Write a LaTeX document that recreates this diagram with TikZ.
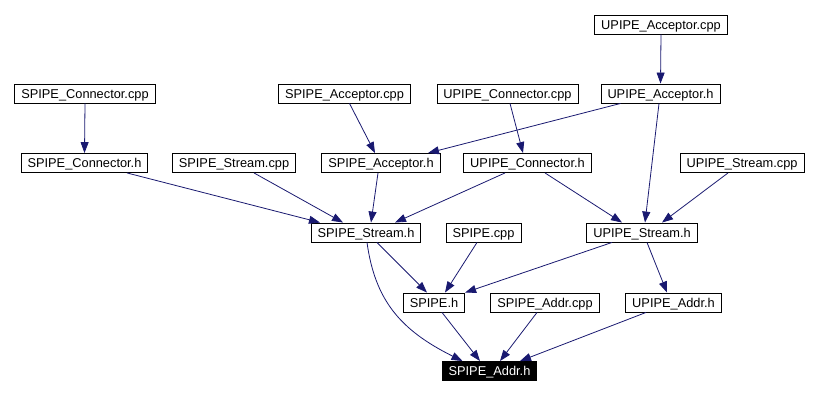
\documentclass[tikz,border=0pt]{standalone}
\usepackage{xcolor}
\usepackage{fontspec}
\setmainfont{Liberation Sans}
\usepackage{tikz}
\usetikzlibrary{arrows.meta}

\definecolor{edgeblue}{RGB}{25,25,112}

\begin{document}
\begin{tikzpicture}[x=1pt, y=-1pt,
    file/.style={draw, line width=0.9pt, inner xsep=6.5pt, inner ysep=0pt,
        minimum height=19pt, text height=9.3pt, text depth=0pt,
        font=\fontsize{12.8}{14}\selectfont},
    root/.style={file, fill=black, text=white},
    dep/.style={draw=edgeblue, line width=0.8pt,
        -{Triangle[length=11pt, width=8pt]}}]
    \useasboundingbox (0, 0) rectangle (818, 395);

    \node[file] at (661, 24.5) (upacccpp) {UPIPE\_Acceptor.cpp};

    \node[file] at (85, 93.5) (spconcpp) {SPIPE\_Connector.cpp};
    \node[file] at (344.5, 93.5) (spacccpp) {SPIPE\_Acceptor.cpp};
    \node[file] at (507.5, 93.5) (upconcpp) {UPIPE\_Connector.cpp};
    \node[file] at (660.5, 93.5) (upacch) {UPIPE\_Acceptor.h};

    \node[file] at (84.5, 163) (spconh) {SPIPE\_Connector.h};
    \node[file] at (234, 163) (spstrcpp) {SPIPE\_Stream.cpp};
    \node[file] at (381, 163) (spacch) {SPIPE\_Acceptor.h};
    \node[file] at (527.5, 163) (upconh) {UPIPE\_Connector.h};
    \node[file] at (742, 163) (upstrcpp) {UPIPE\_Stream.cpp};

    \node[file] at (366, 232.5) (spstrh) {SPIPE\_Stream.h};
    \node[file] at (483.5, 232.5) (spipecpp) {SPIPE.cpp};
    \node[file] at (642, 232.5) (upstrh) {UPIPE\_Stream.h};

    \node[file] at (434, 302.5) (spipeh) {SPIPE.h};
    \node[file] at (545, 302.5) (spaddrcpp) {SPIPE\_Addr.cpp};
    \node[file] at (673.5, 302.5) (upaddrh) {UPIPE\_Addr.h};

    \node[root] at (489.5, 371) (spaddrh) {SPIPE\_Addr.h};

    % top rows
    \draw[dep] (upacccpp.south) -- (upacch.north);
    \draw[dep] (spconcpp.south) -- (spconh.north);
    \draw[dep] ([xshift=5]spacccpp.south) -- ([xshift=-6]spacch.north);
    \draw[dep] ([xshift=2.5]upconcpp.south) -- ([xshift=-4.5]upconh.north);
    \draw[dep] ([xshift=-40]upacch.south) -- ([xshift=47]spacch.north);
    \draw[dep] ([xshift=-1.5]upacch.south) -- ([xshift=3]upstrh.north);

    % into the stream headers
    \draw[dep] ([xshift=42.5]spconh.south) -- ([xshift=-46]spstrh.north);
    \draw[dep] ([xshift=20]spstrcpp.south) -- ([xshift=-23]spstrh.north);
    \draw[dep] ([xshift=-3]spacch.south) -- ([xshift=5]spstrh.north);
    \draw[dep] ([xshift=-22.5]upconh.south) -- ([xshift=29]spstrh.north);
    \draw[dep] ([xshift=17.5]upconh.south) -- ([xshift=-20]upstrh.north);
    \draw[dep] ([xshift=-14]upstrcpp.south) -- ([xshift=20]upstrh.north);

    % lower rows
    \draw[dep] ([xshift=11]spstrh.south) -- ([xshift=-7]spipeh.north);
    \draw[dep] ([xshift=1]spstrh.south) .. controls (375, 300) and (400, 330) .. ([xshift=-27]spaddrh.north);
    \draw[dep] ([xshift=-6.5]spipecpp.south) -- ([xshift=11]spipeh.north);
    \draw[dep] ([xshift=-30]upstrh.south) -- (spipeh.north east);
    \draw[dep] ([xshift=5]upstrh.south) -- ([xshift=-6.5]upaddrh.north);
    \draw[dep] ([xshift=8]spipeh.south) -- ([xshift=-9.5]spaddrh.north);
    \draw[dep] ([xshift=-8]spaddrcpp.south) -- ([xshift=10.5]spaddrh.north);
    \draw[dep] ([xshift=-27.5]upaddrh.south) -- ([xshift=30.5]spaddrh.north);
\end{tikzpicture}
\end{document}
